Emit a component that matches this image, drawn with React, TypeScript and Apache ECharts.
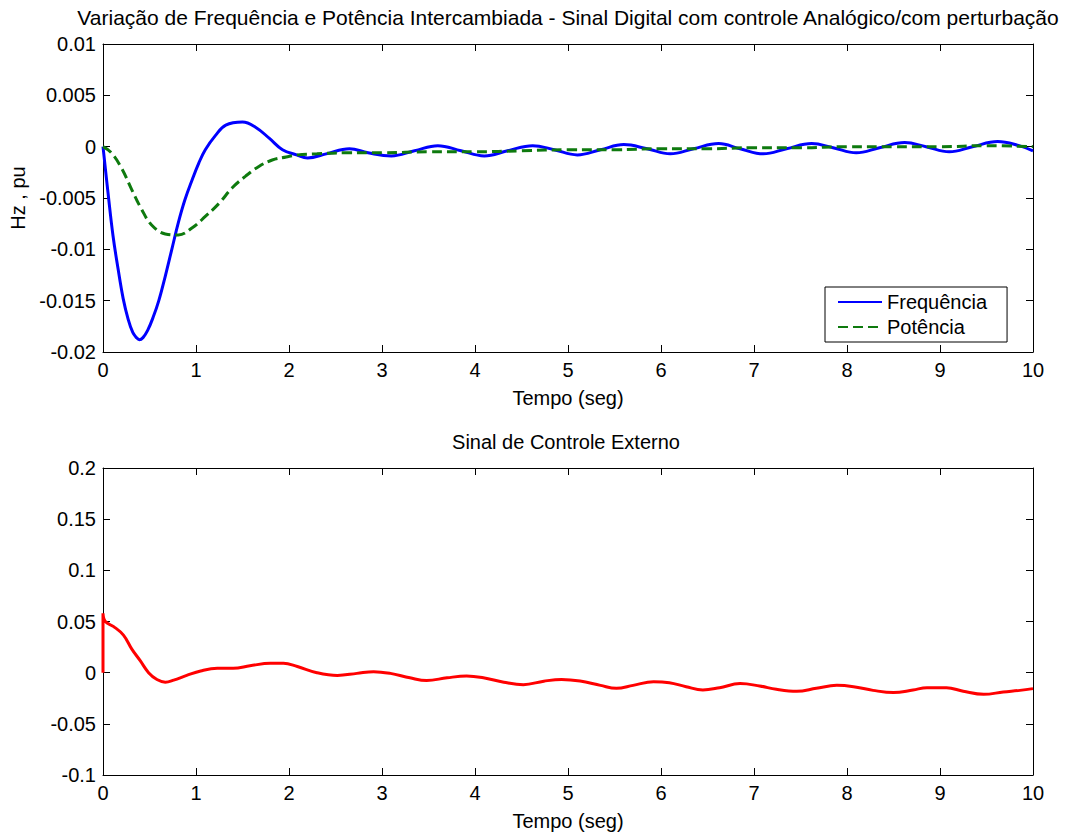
import React, { useEffect, useRef } from "react";
import * as echarts from "echarts";

const mainTitle =
  "Variação de Frequência e Potência Intercambiada - Sinal Digital com controle Analógico/com perturbação";
const lowerTitle = "Sinal de Controle Externo";
const xAxisName = "Tempo (seg)";
const yAxisName = "Hz , pu";

const freqTime = [
  0, 0.054, 0.108, 0.162, 0.217, 0.27, 0.32, 0.36, 0.39, 0.43, 0.48, 0.54, 0.6, 0.67, 0.74, 0.81,
  0.88, 0.96, 1.03, 1.1, 1.21, 1.32, 1.5, 1.64, 1.79, 1.93, 2.08, 2.2, 2.4, 2.65, 2.85, 3.1, 3.35,
  3.6, 3.85, 4.1, 4.35, 4.62, 4.85, 5.1, 5.35, 5.6, 5.85, 6.1, 6.35, 6.62, 6.85, 7.1, 7.35, 7.62,
  7.85, 8.1, 8.35, 8.62, 8.85, 9.1, 9.35, 9.62, 9.85, 10,
];
const freqValues = [
  0, -0.0045, -0.0087, -0.0119, -0.0148, -0.0168, -0.0181, -0.0186, -0.0188, -0.0186, -0.0179,
  -0.0166, -0.015, -0.0126, -0.01, -0.0074, -0.0052, -0.0032, -0.0016, -0.0003, 0.0011, 0.0021,
  0.0024, 0.0019, 0.0008, -0.0003, -0.0008, -0.0011, -0.0007, -0.0002, -0.0006, -0.0009, -0.0004,
  0.0001, -0.0004, -0.0009, -0.0004, 0.0001, -0.0003, -0.0008, -0.0003, 0.0002, -0.0002, -0.0007,
  -0.0002, 0.0003, -0.0002, -0.0007, -0.0002, 0.0003, -0.0001, -0.0006, -0.0001, 0.0004, 0,
  -0.0005, 0, 0.0005, 0.0001, -0.0004,
];

const potTime = [
  0, 0.09, 0.2, 0.31, 0.415, 0.52, 0.67, 0.81, 0.96, 1.1, 1.25, 1.39, 1.53, 1.68, 1.82, 1.97, 2.09,
  2.3, 2.6, 3.0, 3.5, 4.0, 4.5, 5.0, 5.5, 6.0, 6.5, 7.0, 7.5, 8.0, 8.5, 9.0, 9.5, 10,
];
const potValues = [
  0, -0.0006, -0.0021, -0.0042, -0.0061, -0.0076, -0.0085, -0.0086, -0.0079, -0.0068, -0.0055,
  -0.004, -0.0029, -0.0019, -0.0013, -0.001, -0.0008, -0.0007, -0.0006, -0.0006, -0.0005, -0.0005,
  -0.0004, -0.0003, -0.0003, -0.0002, -0.0002, -0.0001, -0.0001, 0, 0, 0, 0.0001, 0,
];

const ctrlTime = [
  0, 0, 0.025, 0.115, 0.22, 0.31, 0.4, 0.49, 0.58, 0.67, 0.76, 0.9, 1.05, 1.23, 1.4, 1.58, 1.8,
  1.94, 2.09, 2.3, 2.52, 2.73, 2.91, 3.09, 3.3, 3.48, 3.7, 3.91, 4.09, 4.31, 4.52, 4.74, 4.93, 5.13,
  5.35, 5.52, 5.7, 5.92, 6.09, 6.27, 6.45, 6.63, 6.85, 7.06, 7.24, 7.46, 7.67, 7.89, 8.07, 8.28, 8.5,
  8.71, 8.86, 9.07, 9.25, 9.47, 9.68, 9.86, 10,
];
const ctrlValues = [
  0, 0.058, 0.05, 0.045, 0.0367, 0.023, 0.0117, 0, -0.0067, -0.0093, -0.0073, -0.0027, 0.0017,
  0.0043, 0.0043, 0.0067, 0.0093, 0.0093, 0.006, 0, -0.0027, -0.0007, 0.001, -0.0007, -0.005,
  -0.0077, -0.005, -0.0033, -0.005, -0.0093, -0.0117, -0.0083, -0.0066, -0.0081, -0.0124, -0.0153,
  -0.0124, -0.0088, -0.0098, -0.0137, -0.0169, -0.0147, -0.0107, -0.013, -0.0163, -0.0182, -0.0153,
  -0.0124, -0.0137, -0.0173, -0.0195, -0.0169, -0.0147, -0.0147, -0.0182, -0.0212, -0.0189, -0.0173,
  -0.0156,
];

const topYTicks = { min: -0.02, max: 0.01, interval: 0.005 };
const bottomYTicks = { min: -0.1, max: 0.2, interval: 0.05 };
const xTicks = { min: 0, max: 10, interval: 1 };

const zip = (t: number[], v: number[]) => t.map((x, i) => [x, v[i]]);

const FONT = "'Liberation Sans', Arial, sans-serif";
const fmt = (v: number) => String(parseFloat(v.toFixed(4)));

export default function App() {
  const ref = useRef<HTMLDivElement>(null);
  useEffect(() => {
    if (!ref.current) return;
    const chart = echarts.init(ref.current, undefined, { renderer: "svg" });
    const grids = [
      { left: 103, top: 44, width: 930, height: 308 },
      { left: 103, top: 468, width: 930, height: 307 },
    ];
    const axisLine = { show: true, onZero: false, lineStyle: { color: "#000", width: 1 } };
    const tickIn = { show: true, inside: true, length: 7, lineStyle: { color: "#000" } };
    const label = { color: "#000", fontSize: 20, fontFamily: FONT };
    const xMain = (gi: number) => ({
      type: "value",
      gridIndex: gi,
      ...xTicks,
      position: "bottom",
      axisLine,
      axisTick: tickIn,
      axisLabel: { ...label, margin: 8, formatter: fmt },
      splitLine: { show: false },
      name: xAxisName,
      nameLocation: "middle",
      nameGap: 36,
      nameTextStyle: { ...label },
    });
    const xTop = (gi: number) => ({
      type: "value",
      gridIndex: gi,
      ...xTicks,
      position: "top",
      axisLine,
      axisTick: tickIn,
      axisLabel: { show: false },
      splitLine: { show: false },
    });
    const yMain = (gi: number, t: any, name?: string) => ({
      type: "value",
      gridIndex: gi,
      ...t,
      position: "left",
      axisLine,
      axisTick: tickIn,
      axisLabel: { ...label, margin: 7, formatter: fmt },
      splitLine: { show: false },
      ...(name
        ? { name, nameLocation: "middle", nameGap: 72, nameTextStyle: { ...label } }
        : {}),
    });
    const yRight = (gi: number, t: any) => ({
      type: "value",
      gridIndex: gi,
      ...t,
      position: "right",
      axisLine,
      axisTick: tickIn,
      axisLabel: { show: false },
      splitLine: { show: false },
    });
    chart.setOption({
      animation: false,
      backgroundColor: "#fff",
      title: [
        {
          text: mainTitle,
          left: 568,
          top: 7,
          padding: 0,
          textAlign: "center",
          textStyle: { color: "#000", fontSize: 21, fontWeight: "normal", fontFamily: FONT },
        },
        {
          text: lowerTitle,
          left: 566,
          top: 432,
          padding: 0,
          textAlign: "center",
          textStyle: { color: "#000", fontSize: 20, fontWeight: "normal", fontFamily: FONT },
        },
      ],
      legend: {
        data: ["Frequência", "Potência"],
        orient: "vertical",
        left: 825,
        top: 287,
        padding: [5, 20, 5, 12],
        itemGap: 5,
        itemWidth: 44,
        itemHeight: 20,
        borderColor: "#000",
        borderWidth: 1,
        backgroundColor: "#fff",
        itemStyle: { opacity: 0 },
        textStyle: { color: "#000", fontSize: 20, fontFamily: FONT },
      },
      grid: grids,
      xAxis: [xMain(0), xTop(0), xMain(1), xTop(1)],
      yAxis: [
        yMain(0, topYTicks, yAxisName),
        yRight(0, topYTicks),
        yMain(1, bottomYTicks),
        yRight(1, bottomYTicks),
      ],
      series: [
        {
          name: "Frequência",
          type: "line",
          xAxisIndex: 0,
          yAxisIndex: 0,
          data: zip(freqTime, freqValues),
          smooth: 0.4,
          symbol: "none",
          lineStyle: { color: "#0000ff", width: 3 },
          itemStyle: { color: "#0000ff" },
        },
        {
          name: "Potência",
          type: "line",
          xAxisIndex: 0,
          yAxisIndex: 0,
          data: zip(potTime, potValues),
          smooth: 0.4,
          symbol: "none",
          lineStyle: { color: "#0e7a0e", width: 3, type: [10, 5] },
          itemStyle: { color: "#0e7a0e" },
        },
        {
          name: "Controle",
          type: "line",
          xAxisIndex: 2,
          yAxisIndex: 2,
          data: zip(ctrlTime, ctrlValues),
          smooth: 0.4,
          symbol: "none",
          lineStyle: { color: "#ff0000", width: 3 },
          itemStyle: { color: "#ff0000" },
        },
      ],
    });
    return () => chart.dispose();
  }, []);
  return (
    <div
      ref={ref}
      style={{ position: "absolute", left: 0, top: 0, width: 1082, height: 836, background: "#fff" }}
    />
  );
}
